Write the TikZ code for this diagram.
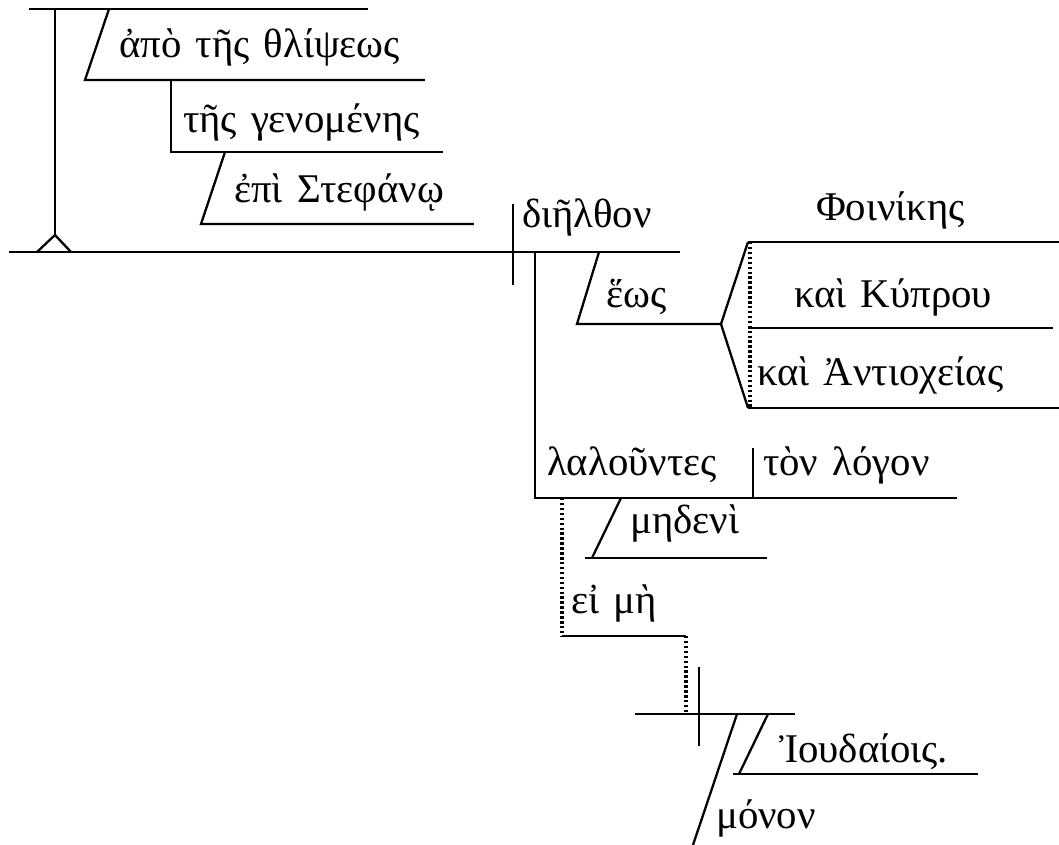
\documentclass[tikz,border=0pt]{standalone}
\usepackage{fontspec}
\newfontfamily\greekfont[WordSpace=1.4]{Liberation Serif}
\usepackage{tikz}

\tikzset{
  word/.style={anchor=base west, inner sep=0pt, font=\greekfont\fontsize{11.6}{13}\selectfont},
  dotline/.style={dash pattern=on 0.7pt off 0.7pt, line width=0.9pt}
}

\begin{document}
\begin{tikzpicture}[x=0.01cm, y=-0.01cm, line width=0.65pt]
    \useasboundingbox (0,0) rectangle (1059,845);
    % participle on its pedestal
    \draw (29,9) -- (368,9);
    \draw (55,9) -- (55,235);
    \draw (37,252) -- (55,235) -- (71,252);
    \draw (109,9) -- (85,80) -- (425,80);
    \node[word] (apo) at (118,57) {ἀπὸ τῆς θλίψεως};
    \draw (171,80) -- (171,152) -- (443,152);
    \node[word] (genom) at (182,132) {τῆς γενομένης};
    \draw (225,152) -- (201,224) -- (474,224);
    \node[word] (epi) at (233,202) {ἐπὶ Στεφάνῳ};
    % main line
    \draw (9,252) -- (680,252);
    \draw (513,204) -- (513,285);
    \node[word] (verb) at (521,227) {διῆλθον};
    \draw (599,252) -- (577,324) -- (721,324);
    \node[word] (heos) at (605,307) {ἕως};
    \coordinate (fork) at (721,324);
    \draw (748,242) -- (fork) -- (748,408);
    \draw (748,242) -- (1059,242);
    \draw (748,328) -- (1053,328);
    \draw (748,408) -- (1059,408);
    \draw[dotline] (750,242) -- (750,408);
    \node[word] (phoin) at (815,220) {Φοινίκης};
    \node[word] (kypr) at (793,307) {καὶ Κύπρου};
    \node[word] (antioch) at (756,385) {καὶ Ἀντιοχείας};
    % participle clause
    \draw (535,252) -- (535,498) -- (957,498);
    \draw (753,448) -- (753,498);
    \node[word] (lal) at (546,475) {λαλοῦντες};
    \node[word] (logon) at (762,475) {τὸν λόγον};
    \draw (621,498) -- (592,558);
    \draw (585,558) -- (767,558);
    \node[word] (meden) at (629,533) {μηδενὶ};
    \draw[dotline] (562,498) -- (562,636);
    \node[word] (eime) at (570,613) {εἰ μὴ};
    \draw (562,636) -- (686,636);
    \draw[dotline] (686,636) -- (686,714);
    % elliptical clause
    \draw (635,714) -- (795,714);
    \draw (699,667) -- (699,746);
    \draw (737,714) -- (693,845);
    \node[word] (monon) at (715,828) {μόνον};
    \draw (768,714) -- (739,774);
    \draw (733,774) -- (978,774);
    \node[word] (ioud) at (778,762) {Ἰουδαίοις.};
\end{tikzpicture}
\end{document}
